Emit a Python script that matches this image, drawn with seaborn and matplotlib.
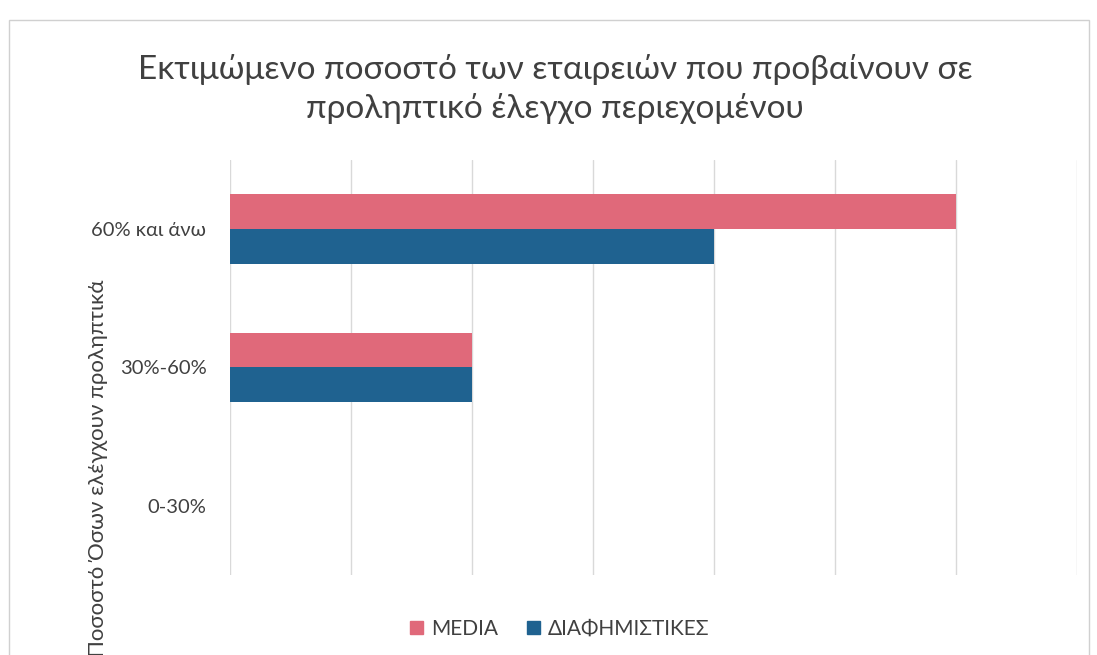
import numpy as np
import matplotlib
matplotlib.use("Agg")
import matplotlib.pyplot as plt
import seaborn as sb
import pandas as pd
from matplotlib.patches import Rectangle

# Δεδομένα από το γράφημα
categories = ["60% και άνω", "30%-60%", "0-30%"]
media = [6, 2, 0]
diafimistikes = [4, 2, 0]
series_names = ["MEDIA", "ΔΙΑΦΗΜΙΣΤΙΚΕΣ"]
colors = ["#E0697A", "#1F6290"]

df = pd.DataFrame({
    "Κατηγορία": categories * 2,
    "Τιμή": media + diafimistikes,
    "Σειρά": [series_names[0]] * 3 + [series_names[1]] * 3,
})

sb.set_style("white")
plt.rcParams['font.family'] = ['Lato', 'DejaVu Sans']

fig = plt.figure(figsize=(10.97, 6.55), dpi=100)
ax = fig.add_axes([0.2097, 0.122, 0.772, 0.634])

sb.barplot(data=df, y="Κατηγορία", x="Τιμή", hue="Σειρά", palette=colors,
           orient="h", width=0.5, ax=ax, legend=False, saturation=1, linewidth=0)

ax.set_xlim(0, 7)
ax.set_ylim(2.5, -0.5)
ax.set_xticks(range(0, 8))
ax.set_xticklabels([])
ax.grid(axis="x", color="#d9d9d9", linewidth=1)
ax.set_axisbelow(True)
for s in ax.spines.values():
    s.set_visible(False)
ax.tick_params(axis="y", length=0, labelsize=14.5, labelcolor="#404040", pad=17)
ax.tick_params(axis="x", length=0)
ax.set_ylabel("")
ax.set_xlabel("")

fig.text(0.506, 0.864, "Εκτιμώμενο ποσοστό των εταιρειών που προβαίνουν σε\nπροληπτικό έλεγχο περιεχομένου",
         ha="center", va="center", fontsize=24, color="#404040", fontweight="normal",
         linespacing=1.3)

fig.text(0.089, 0.285, "Ποσοστό Όσων ελέγχουν προληπτικά", rotation=90,
         ha="center", va="center", fontsize=16, color="#404040")

handles = [Rectangle((0, 0), 1, 1, color=c) for c in colors]
fig.legend(handles, series_names, loc="center", bbox_to_anchor=(0.51, 0.04),
           ncol=2, frameon=False, fontsize=15, handlelength=0.65, handleheight=0.65,
           columnspacing=1.4, handletextpad=0.35, labelcolor="#404040")

fig.patches.append(Rectangle((0.008, -0.02), 0.985, 0.99, transform=fig.transFigure,
                             fill=False, edgecolor="#d0d0d0", linewidth=1))

fig.savefig("out.png", dpi=100)
